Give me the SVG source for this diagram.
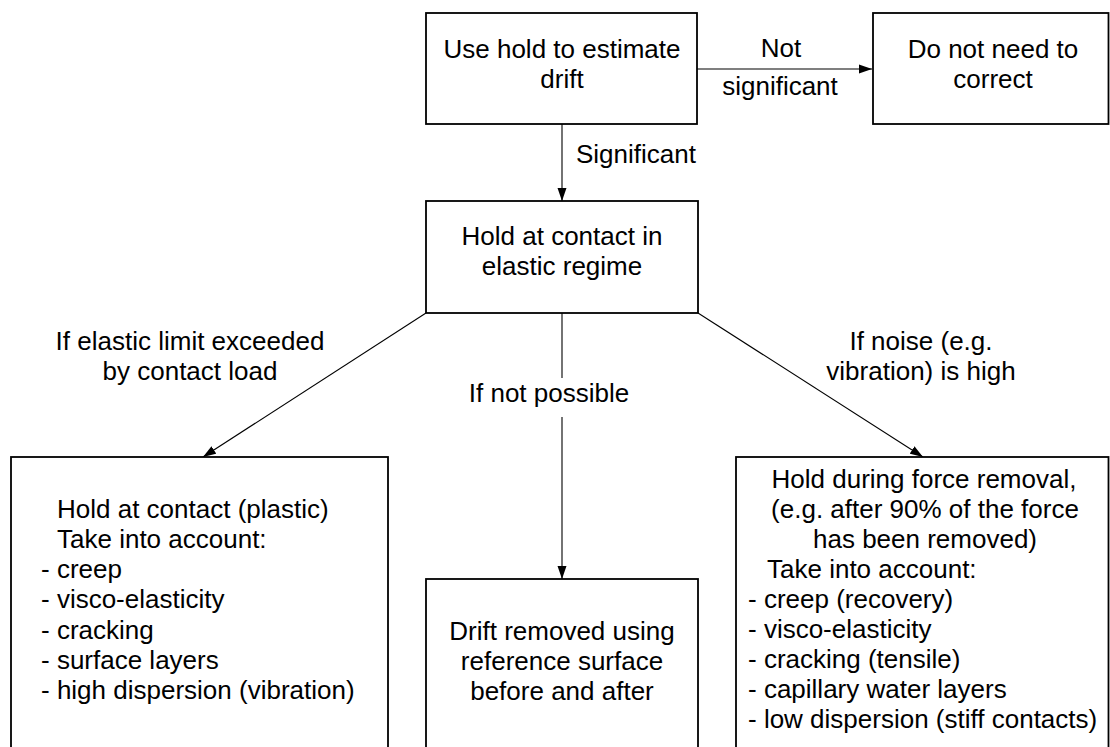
<svg xmlns="http://www.w3.org/2000/svg" width="1110" height="747" viewBox="0 0 1110 747">
<style>
.box{fill:#fff;stroke:#000;stroke-width:1.8}
.t{font-family:"Liberation Sans",Arial,sans-serif;font-size:26px;fill:#000}
.m{text-anchor:middle}
.c{stroke:#000;stroke-width:1.1;fill:none}
</style>
<defs>
<marker id="ah" markerUnits="userSpaceOnUse" markerWidth="14" markerHeight="10" refX="13" refY="5" orient="auto">
<path d="M0,0.5 L13,5 L0,9.5 z" fill="#000"/>
</marker>
</defs>
<rect width="1110" height="747" fill="#fff"/>
<g id="connectors">
<line class="c" x1="697" y1="69" x2="872" y2="69" marker-end="url(#ah)"/>
<line class="c" x1="562" y1="124" x2="562" y2="201" marker-end="url(#ah)"/>
<line class="c" x1="426" y1="313" x2="203" y2="457" marker-end="url(#ah)"/>
<line class="c" x1="562" y1="313" x2="562" y2="378"/>
<line class="c" x1="562" y1="417" x2="562" y2="579" marker-end="url(#ah)"/>
<line class="c" x1="698" y1="313" x2="923" y2="457" marker-end="url(#ah)"/>
<text class="t m" x="781" y="57">Not</text>
<text class="t m" x="780" y="95">significant</text>
<text class="t" x="576" y="163">Significant</text>
<text class="t m" x="190" y="350">If elastic limit exceeded</text>
<text class="t m" x="190" y="380">by contact load</text>
<text class="t m" x="549" y="402">If not possible</text>
<text class="t m" x="921" y="350">If noise (e.g.</text>
<text class="t m" x="921" y="380">vibration) is high</text>
</g>
<g id="n1">
<rect class="box" x="426" y="13" width="271" height="111"/>
<text class="t m" x="562" y="58">Use hold to estimate</text>
<text class="t m" x="562" y="88">drift</text>
</g>
<g id="n2">
<rect class="box" x="873" y="13" width="235.5" height="111"/>
<text class="t m" x="993" y="58">Do not need to</text>
<text class="t m" x="993" y="88">correct</text>
</g>
<g id="n3">
<rect class="box" x="426" y="201" width="272" height="112"/>
<text class="t m" x="562" y="245">Hold at contact in</text>
<text class="t m" x="562" y="275">elastic regime</text>
</g>
<g id="n4">
<rect class="box" x="11" y="457" width="377" height="300"/>
<text class="t" x="57" y="518">Hold at contact (plastic)</text>
<text class="t" x="57" y="548">Take into account:</text>
<text class="t" x="41" y="578">- creep</text>
<text class="t" x="41" y="608">- visco-elasticity</text>
<text class="t" x="41" y="639">- cracking</text>
<text class="t" x="41" y="669">- surface layers</text>
<text class="t" x="41" y="699">- high dispersion (vibration)</text>
</g>
<g id="n5">
<rect class="box" x="426" y="579" width="272" height="180"/>
<text class="t m" x="562" y="640">Drift removed using</text>
<text class="t m" x="562" y="670">reference surface</text>
<text class="t m" x="562" y="700">before and after</text>
</g>
<g id="n6">
<rect class="box" x="736" y="457" width="372.5" height="300"/>
<text class="t m" x="924" y="488">Hold during force removal,</text>
<text class="t m" x="925" y="518">(e.g. after 90% of the force</text>
<text class="t m" x="925" y="548">has been removed)</text>
<text class="t" x="767" y="578">Take into account:</text>
<text class="t" x="748" y="608">- creep (recovery)</text>
<text class="t" x="748" y="638">- visco-elasticity</text>
<text class="t" x="748" y="668">- cracking (tensile)</text>
<text class="t" x="748" y="698">- capillary water layers</text>
<text class="t" x="748" y="728">- low dispersion (stiff contacts)</text>
</g>
</svg>
